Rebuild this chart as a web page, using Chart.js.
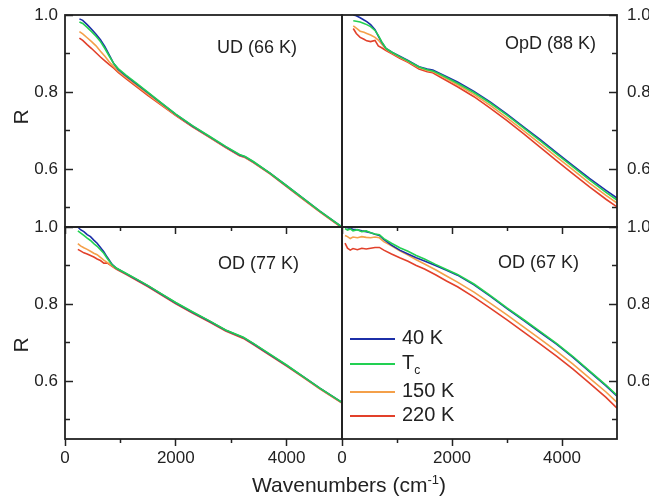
<!DOCTYPE html>
<html>
<head>
<meta charset="utf-8">
<script src="https://cdn.jsdelivr.net/npm/chart.js@4.4.1/dist/chart.umd.min.js"></script>
<style>
	body { margin: 0; background: #fff; }
	#wrap { position: relative; width: 649px; height: 499px; font-family: "Liberation Sans", Arial, sans-serif; color: #222; }
	#wrap canvas { position: absolute; left: 0; top: 0; }
	.txt { position: absolute; white-space: nowrap; line-height: 1; }
	.panel-name { font-size: 18px; }
	.axis-r { font-size: 21px; transform: translate(-50%, -50%) rotate(-90deg); }
	.legend-row { position: absolute; left: 350px; font-size: 20px; white-space: nowrap; line-height: 1; }
	.legend-row i { display: inline-block; width: 45px; height: 2px; vertical-align: middle; margin-right: 7px; }
	.legend-row sub { font-size: 12px; }
</style>
</head>
<body>
<div id="wrap">
	<canvas id="c0" width="649" height="499"></canvas>
	<canvas id="c1" width="649" height="499"></canvas>
	<canvas id="c2" width="649" height="499"></canvas>
	<canvas id="c3" width="649" height="499"></canvas>
	<div class="txt axis-r" style="left:20px;top:117px;">R</div>
	<div class="txt axis-r" style="left:20px;top:345px;">R</div>
	<div class="txt" style="left:252px;top:473px;font-size:21px;">Wavenumbers (cm<sup style="font-size:13px;">-1</sup>)</div>
	<div id="legend"></div>
</div>
<script>
var seriesNames = ['40 K', 'T_c', '150 K', '220 K'];
var seriesColors = ['#1c2fa8', '#22d052', '#f4a04a', '#e2402a'];
var seriesOrder = [1, 0, 2, 3];

var xMajor = [0, 2000, 4000];
var xMinor = [1000, 3000];
var yMajor = [0.6, 0.8, 1.0];
var yMinor = [0.5, 0.7, 0.9];

// UD (66 K)
var udX = [260, 320, 400, 480, 560, 640, 720, 800, 880, 960, 1100, 1300, 1500, 1750, 2000, 2300, 2600, 2900, 3150, 3250, 3400, 3700, 4000, 4300, 4600, 5000];
var ud40 = [0.990, 0.986, 0.975, 0.963, 0.950, 0.936, 0.918, 0.896, 0.874, 0.859, 0.842, 0.820, 0.798, 0.770, 0.742, 0.712, 0.685, 0.658, 0.637, 0.632, 0.619, 0.590, 0.557, 0.524, 0.491, 0.450];
var udTc = [0.982, 0.978, 0.968, 0.957, 0.945, 0.931, 0.913, 0.893, 0.874, 0.861, 0.844, 0.822, 0.799, 0.771, 0.743, 0.713, 0.686, 0.659, 0.638, 0.633, 0.620, 0.590, 0.557, 0.524, 0.491, 0.450];
var ud150 = [0.957, 0.951, 0.941, 0.931, 0.920, 0.906, 0.893, 0.878, 0.866, 0.854, 0.838, 0.816, 0.794, 0.767, 0.740, 0.711, 0.684, 0.657, 0.636, 0.631, 0.618, 0.589, 0.556, 0.523, 0.490, 0.449];
var ud220 = [0.940, 0.934, 0.923, 0.913, 0.902, 0.891, 0.881, 0.871, 0.862, 0.851, 0.835, 0.813, 0.791, 0.765, 0.739, 0.710, 0.683, 0.656, 0.635, 0.630, 0.617, 0.588, 0.555, 0.522, 0.489, 0.448];

// OpD (88 K)
var opdX = [205, 260, 330, 400, 450, 520, 600, 660, 720, 800, 900, 1050, 1200, 1400, 1550, 1650, 1800, 2100, 2400, 2700, 3000, 3300, 3600, 3900, 4200, 4500, 4800, 5000];
var opd40 = [1.000, 0.998, 0.993, 0.987, 0.983, 0.975, 0.962, 0.945, 0.930, 0.913, 0.904, 0.893, 0.882, 0.866, 0.860, 0.857, 0.847, 0.826, 0.802, 0.774, 0.743, 0.710, 0.677, 0.643, 0.609, 0.576, 0.545, 0.525];
var opdTc = [0.985, 0.984, 0.982, 0.978, 0.975, 0.970, 0.960, 0.947, 0.931, 0.913, 0.904, 0.892, 0.881, 0.865, 0.858, 0.855, 0.845, 0.823, 0.799, 0.771, 0.740, 0.707, 0.674, 0.640, 0.606, 0.572, 0.540, 0.520];
var opd150 = [0.972, 0.966, 0.958, 0.955, 0.952, 0.948, 0.942, 0.935, 0.925, 0.911, 0.902, 0.890, 0.879, 0.863, 0.856, 0.853, 0.842, 0.819, 0.794, 0.765, 0.733, 0.700, 0.666, 0.632, 0.598, 0.564, 0.532, 0.512];
var opd220 = [0.965, 0.952, 0.942, 0.937, 0.933, 0.931, 0.934, 0.920, 0.915, 0.908, 0.900, 0.888, 0.877, 0.860, 0.853, 0.850, 0.838, 0.814, 0.788, 0.758, 0.726, 0.692, 0.657, 0.622, 0.588, 0.554, 0.522, 0.502];

// OD (77 K)
var od77X = [232, 280, 340, 400, 460, 520, 580, 640, 700, 760, 850, 930, 1100, 1300, 1500, 1750, 2000, 2300, 2600, 2900, 3220, 3400, 3700, 4000, 4300, 4600, 5000];
var od77_40 = [1.000, 0.993, 0.988, 0.980, 0.975, 0.966, 0.958, 0.947, 0.936, 0.922, 0.903, 0.893, 0.879, 0.863, 0.847, 0.825, 0.803, 0.779, 0.756, 0.732, 0.713, 0.697, 0.669, 0.641, 0.612, 0.582, 0.545];
var od77Tc = [0.990, 0.985, 0.978, 0.971, 0.965, 0.957, 0.950, 0.941, 0.932, 0.919, 0.902, 0.893, 0.880, 0.864, 0.848, 0.826, 0.804, 0.780, 0.757, 0.733, 0.714, 0.698, 0.670, 0.642, 0.612, 0.582, 0.545];
var od77_150 = [0.957, 0.951, 0.946, 0.942, 0.937, 0.932, 0.928, 0.921, 0.914, 0.908, 0.899, 0.892, 0.879, 0.863, 0.847, 0.825, 0.803, 0.779, 0.756, 0.732, 0.713, 0.697, 0.669, 0.641, 0.611, 0.581, 0.544];
var od77_220 = [0.942, 0.938, 0.933, 0.930, 0.926, 0.922, 0.917, 0.913, 0.906, 0.907, 0.898, 0.890, 0.877, 0.861, 0.845, 0.823, 0.801, 0.777, 0.754, 0.730, 0.711, 0.695, 0.667, 0.639, 0.610, 0.580, 0.543];

// OD (67 K)
var od67X = [55, 100, 150, 200, 280, 360, 440, 520, 600, 680, 760, 900, 1050, 1200, 1350, 1500, 1700, 1900, 2100, 2400, 2700, 3000, 3300, 3600, 3900, 4200, 4500, 4800, 5000];
var od67_40 = [1.000, 0.998, 0.996, 0.994, 0.993, 0.990, 0.988, 0.985, 0.981, 0.978, 0.968, 0.953, 0.940, 0.930, 0.920, 0.912, 0.900, 0.888, 0.875, 0.850, 0.820, 0.788, 0.758, 0.727, 0.696, 0.662, 0.625, 0.588, 0.561];
var od67Tc = [0.996, 0.992, 0.995, 0.990, 0.993, 0.988, 0.990, 0.985, 0.982, 0.980, 0.970, 0.958, 0.946, 0.937, 0.926, 0.917, 0.903, 0.890, 0.877, 0.852, 0.822, 0.790, 0.760, 0.729, 0.698, 0.664, 0.627, 0.590, 0.563];
var od67_150 = [0.978, 0.975, 0.970, 0.974, 0.972, 0.975, 0.973, 0.972, 0.974, 0.972, 0.962, 0.951, 0.938, 0.927, 0.915, 0.904, 0.889, 0.873, 0.857, 0.831, 0.802, 0.772, 0.741, 0.710, 0.678, 0.644, 0.608, 0.572, 0.545];
var od67_220 = [0.958, 0.945, 0.940, 0.944, 0.941, 0.945, 0.943, 0.945, 0.947, 0.947, 0.940, 0.930, 0.920, 0.911, 0.900, 0.891, 0.876, 0.860, 0.845, 0.818, 0.789, 0.759, 0.728, 0.697, 0.665, 0.631, 0.595, 0.558, 0.530];

var panels = [
	{ canvas: 'c0', name: 'UD (66 K)', x: udX, series: [ud40, udTc, ud150, ud220], area: [65, 342, 15, 227], yPos: 'left', xLabels: false, nameAt: [217, 38] },
	{ canvas: 'c1', name: 'OpD (88 K)', x: opdX, series: [opd40, opdTc, opd150, opd220], area: [342, 617, 15, 227], yPos: 'right', xLabels: false, nameAt: [505, 34] },
	{ canvas: 'c2', name: 'OD (77 K)', x: od77X, series: [od77_40, od77Tc, od77_150, od77_220], area: [65, 342, 227, 439], yPos: 'left', xLabels: true, nameAt: [218, 254] },
	{ canvas: 'c3', name: 'OD (67 K)', x: od67X, series: [od67_40, od67Tc, od67_150, od67_220], area: [342, 617, 227, 439], yPos: 'right', xLabels: true, nameAt: [498, 253] }
];

var W = 649, H = 499;
var Y_LEFT_W = 60, Y_RIGHT_W = 32, X_H = 30;
var font = { family: '"Liberation Sans", Arial, sans-serif', size: 17 };
var ink = '#222';

// pin an axis box to a fixed size so the plot areas line up across the four charts
function fitTo(size) {
	return function (scale) {
		if (scale.isHorizontal()) {
			scale.height = size;
		} else {
			scale.width = size;
		}
		scale.paddingTop = scale.paddingBottom = scale.paddingLeft = scale.paddingRight = 0;
	};
}

function fixedTicks(values) {
	return function (axis) {
		axis.ticks = values.map(function (v) { return { value: v }; });
	};
}

var framePlugin = {
	id: 'frame',
	afterDraw: function (chart) {
		var a = chart.chartArea;
		var ctx = chart.ctx;
		ctx.save();
		ctx.strokeStyle = ink;
		ctx.lineWidth = 1.8;
		ctx.strokeRect(a.left, a.top, a.right - a.left, a.bottom - a.top);
		ctx.restore();
	}
};

panels.forEach(function (p) {
	var left = p.yPos === 'left';
	var datasets = p.series.map(function (ys, i) {
		return {
			label: seriesNames[i],
			data: ys.map(function (y, j) { return { x: p.x[j], y: y }; }),
			borderColor: seriesColors[i],
			borderWidth: 1.6,
			pointRadius: 0,
			fill: false,
			tension: 0,
			order: seriesOrder[i]
		};
	});

	var pad = {
		left: left ? p.area[0] - Y_LEFT_W : p.area[0],
		right: left ? W - p.area[1] : W - p.area[1] - Y_RIGHT_W,
		top: p.area[2],
		bottom: H - p.area[3] - X_H
	};

	new Chart(document.getElementById(p.canvas), {
		type: 'line',
		data: { datasets: datasets },
		plugins: [framePlugin],
		options: {
			responsive: false,
			animation: false,
			devicePixelRatio: 1,
			layout: { padding: pad },
			plugins: { legend: { display: false }, tooltip: { enabled: false } },
			scales: {
				x: {
					type: 'linear', position: 'bottom', weight: 1, min: 0, max: 5000,
					afterFit: fitTo(X_H), afterBuildTicks: fixedTicks(xMajor),
					border: { display: false },
					grid: { drawOnChartArea: false, tickLength: 7, tickWidth: 1.5, tickColor: ink },
					ticks: { display: p.xLabels, autoSkip: false, maxRotation: 0, padding: 2, font: font, color: ink, callback: function (v) { return String(v); } }
				},
				xm: {
					type: 'linear', axis: 'x', position: 'bottom', weight: 0, min: 0, max: 5000,
					afterFit: fitTo(0), afterBuildTicks: fixedTicks(xMinor),
					border: { display: false },
					grid: { drawOnChartArea: false, tickLength: 4, tickWidth: 1.5, tickColor: ink },
					ticks: { display: false }
				},
				y: {
					type: 'linear', position: p.yPos, weight: 1, min: 0.45, max: 1.0,
					afterFit: fitTo(left ? Y_LEFT_W : Y_RIGHT_W), afterBuildTicks: fixedTicks(yMajor),
					border: { display: false },
					grid: { drawOnChartArea: false, tickLength: -8, tickWidth: 1.5, tickColor: ink },
					ticks: { autoSkip: false, padding: left ? 15 : 18, font: font, color: ink, callback: function (v) { return v.toFixed(1); } }
				},
				ym: {
					type: 'linear', axis: 'y', position: p.yPos, weight: 0, min: 0.45, max: 1.0,
					afterFit: fitTo(0), afterBuildTicks: fixedTicks(yMinor),
					border: { display: false },
					grid: { drawOnChartArea: false, tickLength: -5, tickWidth: 1.5, tickColor: ink },
					ticks: { display: false }
				}
			}
		}
	});

	var label = document.createElement('div');
	label.className = 'txt panel-name';
	label.style.left = p.nameAt[0] + 'px';
	label.style.top = p.nameAt[1] + 'px';
	label.textContent = p.name;
	document.getElementById('wrap').appendChild(label);
});

// legend inside the OD (67 K) panel
var legendTops = [327, 352, 380, 404];
var $legend = document.getElementById('legend');
seriesNames.forEach(function (name, i) {
	var row = document.createElement('div');
	row.className = 'legend-row';
	row.style.top = legendTops[i] + 'px';
	row.innerHTML = '<i style="background:' + seriesColors[i] + '"></i>' + name.replace(/_(\w+)/, '<sub>$1</sub>');
	$legend.appendChild(row);
});
</script>
</body>
</html>
